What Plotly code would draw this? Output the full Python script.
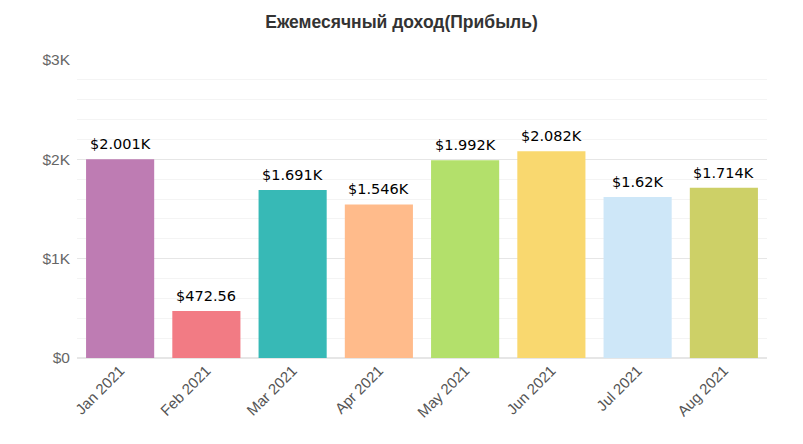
import plotly.graph_objects as go

months = ["Jan 2021", "Feb 2021", "Mar 2021", "Apr 2021", "May 2021", "Jun 2021", "Jul 2021", "Aug 2021"]
profit = [2001, 472.56, 1691, 1546, 1992, 2082, 1620, 1714]
colors = ["#BE7CB3", "#F27B84", "#37B9B6", "#FFBB8B", "#B3E06B", "#F9D86F", "#CEE7F8", "#CDD067"]
ytick_vals = [0, 1000, 2000, 3000]
ytick_text = ["$0", "$1K", "$2K", "$3K"]


def fmt(v):
    if v >= 1000:
        s = f"{v/1000:.3f}".rstrip("0").rstrip(".")
        return f"${s}K"
    return f"${v:.2f}"


labels = [fmt(v) for v in profit]

fig = go.Figure(go.Bar(
    x=months, y=profit, marker=dict(color=colors, line=dict(width=0)),
))

for m, v, lab in zip(months, profit, labels):
    fig.add_annotation(x=m, y=v, text=lab, showarrow=False, yanchor="bottom",
                       yshift=5, font=dict(family="DejaVu Sans", size=14.5, color="#000000"))

fig.update_layout(
    width=803, height=444,
    margin=dict(l=77, r=36, t=60, b=86),
    paper_bgcolor="white", plot_bgcolor="white",
    title=dict(text="<b>Ежемесячный доход(Прибыль)</b>", x=0.5, xanchor="center",
               y=0.95, yanchor="middle",
               font=dict(family="Liberation Sans", size=17.5, color="#333333")),
    bargap=0.21, showlegend=False,
    font=dict(family="Liberation Sans"),
)
fig.update_xaxes(tickangle=-45, tickfont=dict(size=15, color="#555555"),
                 showline=False, showgrid=False, ticks="")
fig.update_yaxes(range=[0, 3000], tickvals=ytick_vals, ticktext=ytick_text,
                 tickfont=dict(size=15.5, color="#666666"),
                 showgrid=True, gridcolor="#e6e6e6", gridwidth=1,
                 zeroline=True, zerolinecolor="#e6e6e6",
                 minor=dict(dtick=200, showgrid=True, gridcolor="#f4f4f4"),
                 ticklen=0, ticks="", ticklabelstandoff=6)

fig.write_html("out.html")
